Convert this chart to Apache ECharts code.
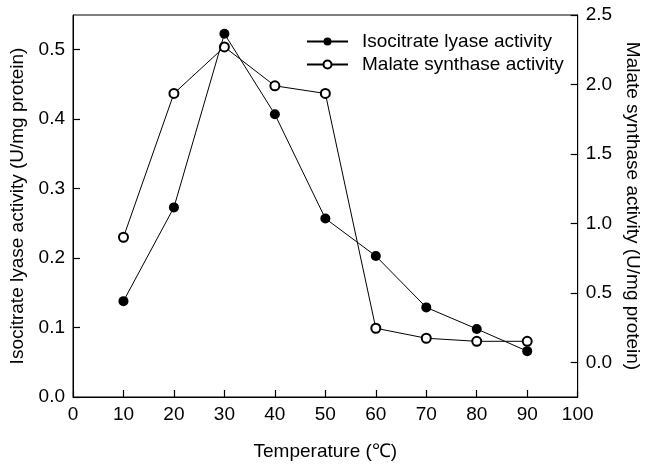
<!DOCTYPE html>
<html>
<head>
<meta charset="utf-8">
<script src="https://cdn.jsdelivr.net/npm/echarts@6/dist/echarts.min.js"></script>
<style>
  html, body { margin: 0; padding: 0; background: #fff; }
  #chart { width: 650px; height: 466px; }
</style>
</head>
<body>
<div id="chart"></div>
<script>
// temperature (°C)
const temps = [10, 20, 30, 40, 50, 60, 70, 80, 90];
// isocitrate lyase activity, left axis (U/mg protein)
const iclValues = [0.138, 0.273, 0.523, 0.407, 0.257, 0.203, 0.129, 0.098, 0.066];
// malate synthase activity, right axis (U/mg protein)
const msValues = [0.90, 1.935, 2.27, 1.99, 1.935, 0.245, 0.173, 0.151, 0.151];
const rightTicks = [0, 0.5, 1.0, 1.5, 2.0, 2.5];

const font = "'Liberation Sans', Arial, Helvetica, sans-serif";
const fs = 19;

function pairs(xs, ys) {
  return xs.map((x, i) => [x, ys[i]]);
}

const chart = echarts.init(document.getElementById('chart'));
chart.setOption({
  animation: false,
  textStyle: { fontFamily: font, color: '#000' },
  grid: {
    left: 73, right: 63, top: 15, bottom: 67,
    show: true, borderColor: '#000', borderWidth: 1
  },
  legend: {
    orient: 'vertical',
    left: 301, top: 27,
    itemWidth: 41, itemHeight: 10, itemGap: 4,
    textStyle: { fontSize: fs, fontFamily: font, color: '#000', padding: [0, 0, 0, 9] },
    data: ['Isocitrate lyase activity', 'Malate synthase activity']
  },
  xAxis: {
    type: 'value',
    min: 0, max: 100, interval: 10,
    name: 'Temperature (℃)',
    nameLocation: 'middle',
    nameGap: 45,
    nameTextStyle: { fontSize: fs, color: '#000' },
    axisLine: { lineStyle: { color: '#000', width: 1 } },
    axisTick: { show: true, inside: true, length: 7, lineStyle: { color: '#000', width: 1.2 } },
    axisLabel: { fontSize: fs, color: '#000', margin: 8 },
    splitLine: { show: false }
  },
  yAxis: [
    {
      type: 'value',
      position: 'left',
      min: 0, max: 0.55, interval: 0.1,
      name: 'Isocitrate lyase activity (U/mg protein)',
      nameLocation: 'middle',
      nameGap: 46,
      nameTextStyle: { fontSize: fs, color: '#000' },
      axisLine: { show: true, lineStyle: { color: '#000', width: 1 } },
      axisTick: { show: true, inside: true, length: 7, lineStyle: { color: '#000', width: 1.2 } },
      axisLabel: {
        fontSize: fs, color: '#000', margin: 8, showMaxLabel: false,
        formatter: v => v.toFixed(1)
      },
      splitLine: { show: false }
    },
    {
      type: 'value',
      position: 'right',
      min: -0.25, max: 2.5,
      name: 'Malate synthase activity (U/mg protein)',
      nameLocation: 'middle',
      nameRotate: -90,
      nameGap: 42,
      nameTextStyle: { fontSize: fs, color: '#000' },
      axisLine: { show: true, lineStyle: { color: '#000', width: 1 } },
      axisTick: { show: true, inside: true, length: 7, customValues: rightTicks, lineStyle: { color: '#000', width: 1.2 } },
      axisLabel: {
        fontSize: fs, color: '#000', margin: 8, customValues: rightTicks,
        formatter: v => v.toFixed(1)
      },
      splitLine: { show: false }
    }
  ],
  series: [
    {
      name: 'Malate synthase activity',
      type: 'line',
      yAxisIndex: 1,
      data: pairs(temps, msValues),
      symbol: 'circle',
      symbolSize: 9,
      itemStyle: { color: '#fff', borderColor: '#000', borderWidth: 2 },
      lineStyle: { color: '#000', width: 1 },
      z: 2
    },
    {
      name: 'Isocitrate lyase activity',
      type: 'line',
      yAxisIndex: 0,
      data: pairs(temps, iclValues),
      symbol: 'circle',
      symbolSize: 10,
      itemStyle: { color: '#000', borderColor: '#000', borderWidth: 0 },
      lineStyle: { color: '#000', width: 1 },
      z: 3
    }
  ]
});
</script>
</body>
</html>
